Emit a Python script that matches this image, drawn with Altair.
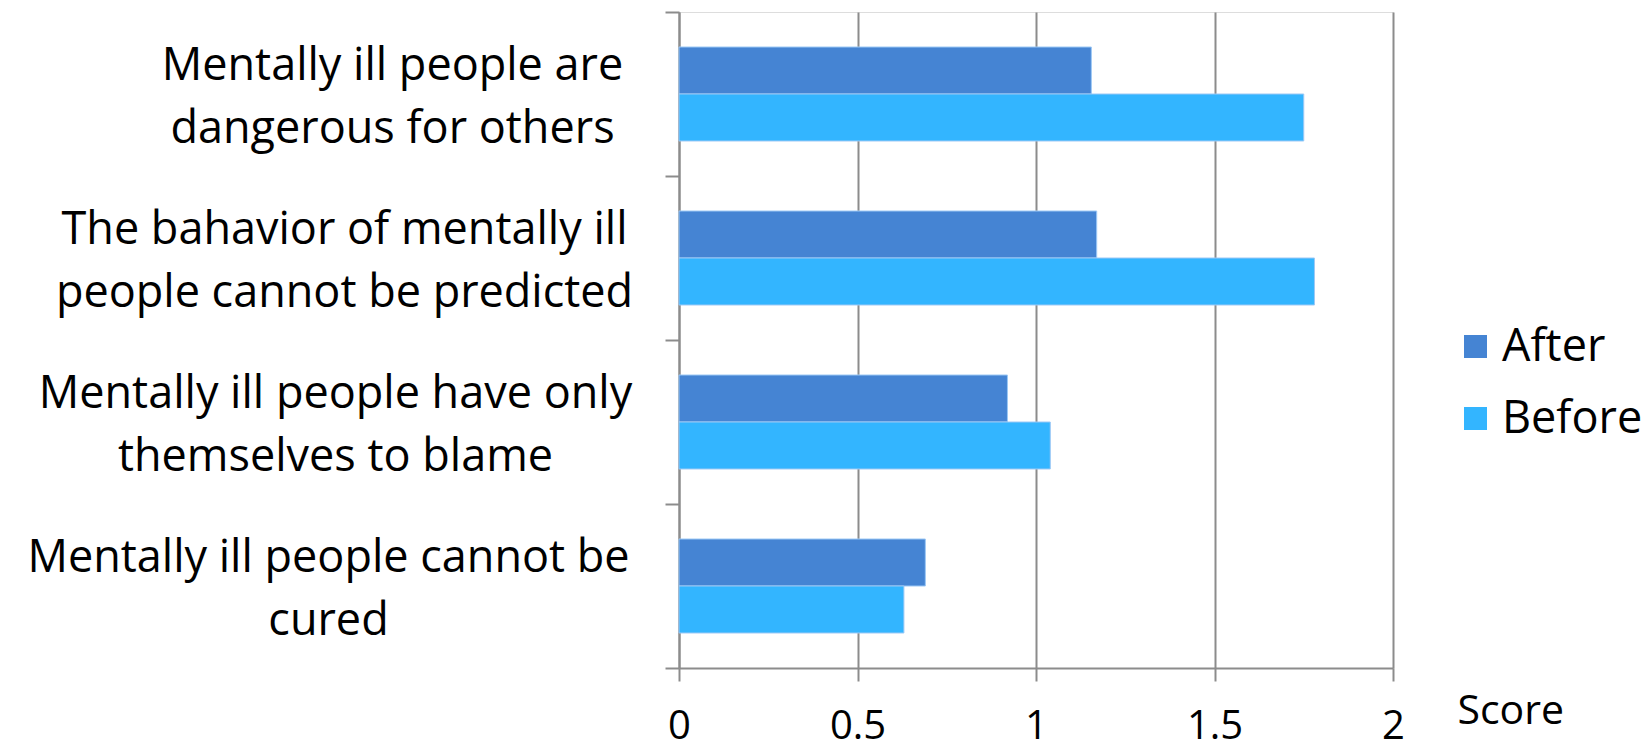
import altair as alt
import pandas as pd

categories = [
    "Mentally ill people are|dangerous  for others",
    "The bahavior of mentally ill|people cannot be predicted",
    "Mentally ill people have only|themselves to blame",
    "Mentally ill people cannot be|cured",
]
series = ["After", "Before"]
after_vals = [1.155, 1.17, 0.92, 0.69]
before_vals = [1.75, 1.78, 1.04, 0.63]
x_ticks = [0, 0.5, 1, 1.5, 2]
# distance from the tick end to the centre of each (centre-aligned) label
label_pad = [273, 321, 330, 337]

rows = []
for c, a, b in zip(categories, after_vals, before_vals):
    rows.append({"statement": c, "series": "After", "score": a})
    rows.append({"statement": c, "series": "Before", "score": b})
df = pd.DataFrame(rows)

FONT = "Open Sans"
GRAY = "#8c8c8c"

pad_cond = {
    "condition": [{"test": f"datum.value == '{c}'", "value": p}
                  for c, p in zip(categories[:-1], label_pad[:-1])],
    "value": label_pad[-1],
}

chart = alt.Chart(df).mark_bar(stroke="#9cc8f5", strokeWidth=1).encode(
    x=alt.X("score:Q",
            scale=alt.Scale(domain=[0, 2], nice=False),
            axis=alt.Axis(values=x_ticks, format=".1~f", grid=True, gridColor=GRAY,
                          gridWidth=2, domainColor=GRAY, domainWidth=2,
                          tickColor=GRAY, tickWidth=2, tickSize=13,
                          labelFont=FONT, labelFontSize=40, labelColor="black",
                          labelPadding=57, labelBaseline="alphabetic",
                          labelFlush=False, labelOverlap=False,
                          title="Score", titleFont=FONT, titleFontSize=41,
                          titleFontWeight="normal", titleColor="black",
                          titleX=778, titleY=55, titleAlign="left",
                          titleBaseline="alphabetic", titleAnchor="start")),
    y=alt.Y("statement:N", sort=categories,
            scale=alt.Scale(paddingInner=0, paddingOuter=0),
            axis=alt.Axis(title=None, grid=False, tickBand="extent",
                          domainColor=GRAY, domainWidth=2, tickColor=GRAY,
                          tickWidth=2, tickSize=14,
                          labelExpr="split(datum.label, '|')",
                          labelFont=FONT, labelFontSize=45, labelColor="black",
                          labelLineHeight=63, labelPadding=pad_cond,
                          labelOffset=-29,
                          labelAlign="center", labelBaseline="middle",
                          labelLimit=800)),
    yOffset=alt.YOffset("series:N", sort=series,
                        scale=alt.Scale(paddingInner=0, paddingOuter=0.745)),
    color=alt.Color("series:N", sort=series,
                    scale=alt.Scale(domain=series, range=["#4584D3", "#33B5FF"]),
                    legend=alt.Legend(title=None, orient="none", legendX=774,
                                      legendY=312, symbolType="square",
                                      symbolSize=530, symbolStrokeWidth=0,
                                      labelFont=FONT, labelFontSize=45,
                                      labelColor="black", rowPadding=26,
                                      labelOffset=4)),
).properties(
    width=714, height=656,
    autosize=alt.AutoSizeParams(type="none"),
    padding={"left": 679, "top": 12, "right": 253, "bottom": 81},
).configure_view(stroke=None).configure(background="white")

chart.save("out.html", embed_options={"renderer": "svg", "actions": False})
